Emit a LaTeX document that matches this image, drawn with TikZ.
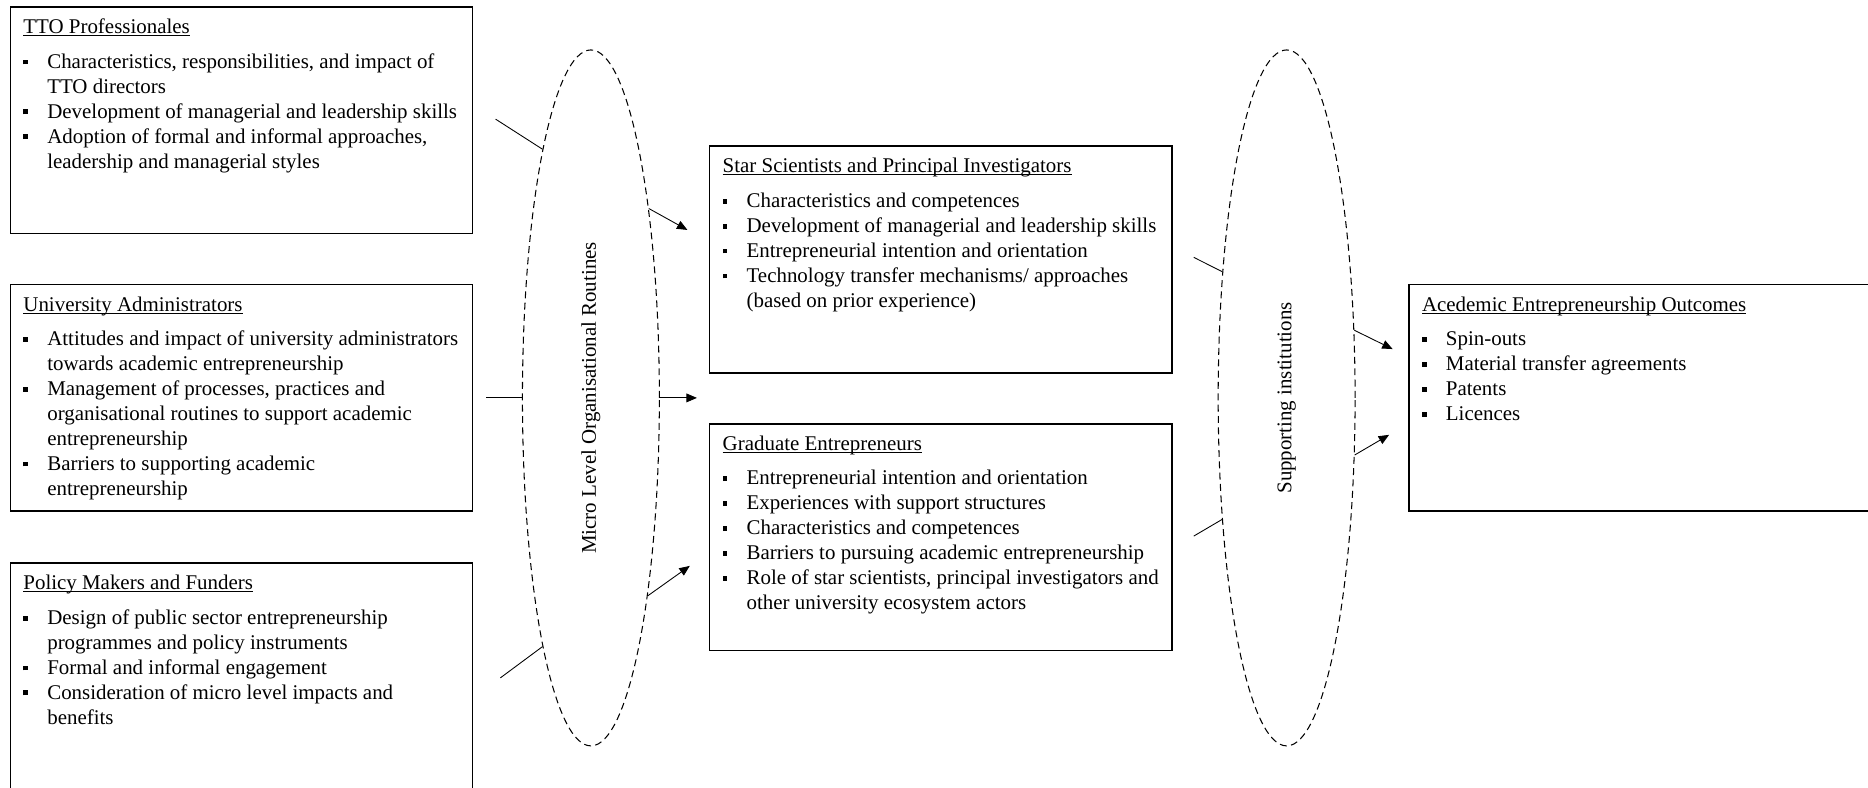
\documentclass[tikz,border=0pt]{standalone}
\usepackage{fontspec}
\setmainfont{Liberation Serif}
\usepackage{tikz}
\usetikzlibrary{positioning,shapes.geometric,arrows.meta}

\newcommand{\bul}{\par\hangindent=13.7pt\hangafter=1\noindent\makebox[13.7pt][l]{\rule[2.2pt]{2.6pt}{2.8pt}}}
\newcommand{\uline}[1]{\leavevmode\setbox0\hbox{#1}\rlap{\rule[-1.4pt]{\wd0}{0.5pt}}\box0}
\newcommand{\panel}[2]{\makebox[250pt][l]{\begin{minipage}[t][116pt][t]{262pt}\raggedright\uline{#1}\par\vspace{5.5pt}#2\end{minipage}}}

\begin{document}
\begin{tikzpicture}[x=0.683pt, y=-0.683pt,
    every node/.style={font=\fontsize{12}{14.3}\selectfont},
    panelbox/.style={draw, line width=0.9pt, anchor=north west, inner xsep=7.5pt, inner ysep=7pt},
    routine/.style={ellipse, draw, line width=0.6pt, dash pattern=on 4pt off 2.5pt, inner sep=0pt, minimum width=78.5pt, minimum height=399pt},
    link/.style={line width=0.5pt},
    flow/.style={line width=0.5pt, -{Triangle[length=6pt,width=5pt]}}]
    \useasboundingbox (0,0) rectangle (1568,661);

    % Actors
    \node[panelbox] (tto) at (8,5) {\panel{TTO Professionales}{%
        \bul Characteristics, responsibilities, and impact of\newline TTO directors
        \bul Development of managerial and leadership skills
        \bul Adoption of formal and informal approaches,\newline leadership and managerial styles}};
    \node[panelbox] (admin) at (8,238) {\panel{University Administrators}{%
        \bul Attitudes and impact of university administrators\newline towards academic entrepreneurship
        \bul Management of processes, practices and\newline organisational routines to support academic\newline entrepreneurship
        \bul Barriers to supporting academic\newline entrepreneurship}};
    \node[panelbox] (policy) at (8,472) {\panel{Policy Makers and Funders}{%
        \bul Design of public sector entrepreneurship\newline programmes and policy instruments
        \bul Formal and informal engagement
        \bul Consideration of micro level impacts and\newline benefits}};

    % Academics
    \node[panelbox] (star) at (595,122) {\panel{Star Scientists and Principal Investigators}{%
        \bul Characteristics and competences
        \bul Development of managerial and leadership skills
        \bul Entrepreneurial intention and orientation
        \bul Technology transfer mechanisms/ approaches\newline (based on prior experience)}};
    \node[panelbox] (grad) at (595,355) {\panel{Graduate Entrepreneurs}{%
        \bul Entrepreneurial intention and orientation
        \bul Experiences with support structures
        \bul Characteristics and competences
        \bul Barriers to pursuing academic entrepreneurship
        \bul Role of star scientists, principal investigators and\newline other university ecosystem actors}};

    % Outcomes
    \node[panelbox] (outcome) at (1182,238) {\panel{Acedemic Entrepreneurship Outcomes}{%
        \bul Spin-outs
        \bul Material transfer agreements
        \bul Patents
        \bul Licences}};

    % Routines and institutions
    \node[routine] (mlor) at (496,334) {\rotatebox{90}{Micro Level Organisational Routines}};
    \node[routine] (inst) at (1080,334) {\rotatebox{90}{Supporting institutions}};

    % Links into the routines
    \coordinate (ttoin) at (416,100);
    \coordinate (adminin) at (408,334);
    \coordinate (policyin) at (420,569);
    \draw[link] (ttoin) -- (mlor.101);
    \draw[link] (adminin) -- (mlor.west);
    \draw[link] (policyin) -- (mlor.259);

    % Arrows out of the routines
    \coordinate (starin) at (577,193);
    \coordinate (midin) at (585,334);
    \coordinate (gradin) at (579,475);
    \draw[flow] (mlor.73) -- (starin);
    \draw[flow] (mlor.east) -- (midin);
    \draw[flow] (mlor.286) -- (gradin);

    % Links into the institutions
    \coordinate (starout) at (1002,216);
    \coordinate (gradout) at (1002,450);
    \draw[link] (starout) -- (inst.117);
    \draw[link] (gradout) -- (inst.242);

    % Arrows to the outcomes
    \coordinate (outtop) at (1169,293);
    \coordinate (outbot) at (1166,365);
    \draw[flow] (inst.45) -- (outtop);
    \draw[flow] (inst.320) -- (outbot);
\end{tikzpicture}
\end{document}
